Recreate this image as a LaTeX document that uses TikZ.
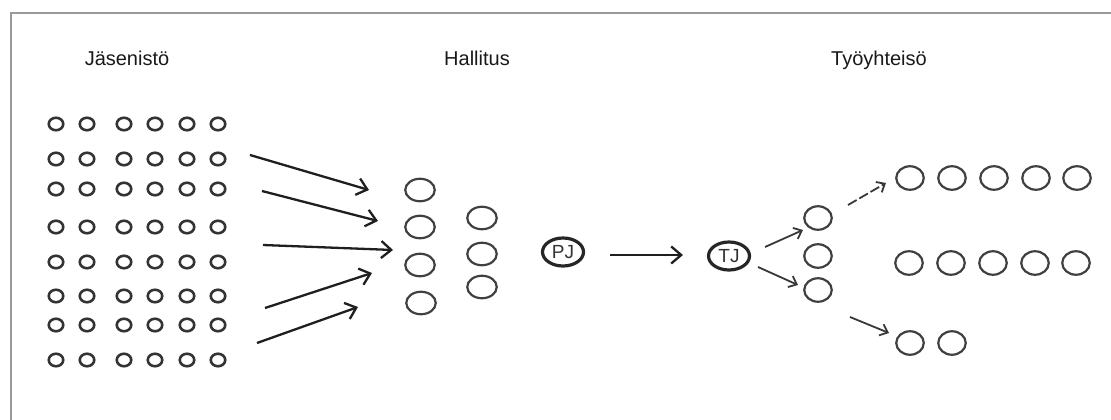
\documentclass[tikz,border=0pt]{standalone}
\usepackage{fontspec}
\setmainfont{Liberation Sans}
\usetikzlibrary{shapes.geometric,arrows.meta}
\begin{document}
\begin{tikzpicture}[x=1pt,y=-1pt,
  dot/.style={ellipse,draw=black!80,line width=2.6pt,minimum width=14.5pt,minimum height=12.5pt,inner sep=0pt},
  oval/.style={ellipse,draw=black!75,line width=2.2pt,minimum width=29.5pt,minimum height=22.5pt,inner sep=0pt},
  woval/.style={ellipse,draw=black!75,line width=2.2pt,minimum width=27.5pt,minimum height=23.5pt,inner sep=0pt},
  boss/.style={ellipse,draw=black!85,line width=3.2pt,minimum width=41pt,minimum height=28pt,inner sep=0pt,text=black!80,font=\fontsize{19}{22}\selectfont},
  title/.style={font=\fontsize{20}{24}\selectfont,text=black!90,anchor=base},
  bigarrow/.style={draw=black!88,line width=2.3pt,-{Straight Barb[length=10pt,width=17pt,line width=2.3pt]}},
  smallarrow/.style={draw=black!78,line width=1.8pt,-{Straight Barb[length=7pt,width=12pt,line width=1.8pt]}},
]
\useasboundingbox (0,0) rectangle (1111,420);
\draw[black!40,line width=2.2pt] (11,420) -- (11,13) -- (1111,13);

% titles
\node[title] (t-jas) at (127,66) {Jäsenistö};
\node[title] (t-hal) at (477,66) {Hallitus};
\node[title] (t-tyo) at (879,66) {Työyhteisö};

% membership grid
\foreach \r/\y in {1/124,2/159,3/189,4/227,5/262,6/296,7/325,8/360}
  \foreach \c/\x in {1/56,2/87,3/124,4/155,5/187,6/218}
    \node[dot] (m\r\c) at (\x,\y) {};

% arrows into board
\coordinate (a1s) at (250,155); \coordinate (a1e) at (369,190);
\coordinate (a2s) at (262,191); \coordinate (a2e) at (378,221);
\coordinate (a3s) at (263,245); \coordinate (a3e) at (393,250);
\coordinate (a4s) at (265,308); \coordinate (a4e) at (372,273);
\coordinate (a5s) at (257,343); \coordinate (a5e) at (358,307);
\foreach \i in {1,...,5} \draw[bigarrow] (a\i s) -- (a\i e);

% board
\node[oval] (h1) at (420,190) {};
\node[oval] (h2) at (420,227) {};
\node[oval] (h3) at (420,265) {};
\node[oval] (h4) at (421,303) {};
\node[oval] (g1) at (482,218) {};
\node[oval] (g2) at (482,254) {};
\node[oval] (g3) at (482,287) {};

\node[boss] (pj) at (563,252) {PJ};
\node[boss] (tj) at (729,256) {TJ};
\coordinate (p1) at (610,255); \coordinate (p2) at (683,255);
\draw[bigarrow,line width=2pt] (p1) -- (p2);

% work community
\node[woval] (w1) at (818,218) {};
\node[woval] (w2) at (818,256) {};
\node[woval] (w3) at (818,290) {};

\coordinate (b1s) at (765,247); \coordinate (b1e) at (803,230);
\coordinate (b2s) at (758,267); \coordinate (b2e) at (798,285);
\draw[smallarrow] (b1s) -- (b1e);
\draw[smallarrow] (b2s) -- (b2e);

\coordinate (c1s) at (848,205); \coordinate (c1e) at (886,183);
\coordinate (c2s) at (850,317); \coordinate (c2e) at (889,333);
\draw[smallarrow,dash pattern=on 10pt off 3pt] (c1s) -- (c1e);
\draw[smallarrow] (c2s) -- (c2e);

\foreach \i/\x in {1/910,2/952,3/994,4/1036,5/1077}
  \node[woval] (u\i) at (\x,178) {};
\foreach \i/\x in {1/909,2/951,3/993,4/1035,5/1076}
  \node[woval] (v\i) at (\x,263) {};
\foreach \i/\x in {1/910,2/952}
  \node[woval] (z\i) at (\x,343) {};
\end{tikzpicture}
\end{document}
